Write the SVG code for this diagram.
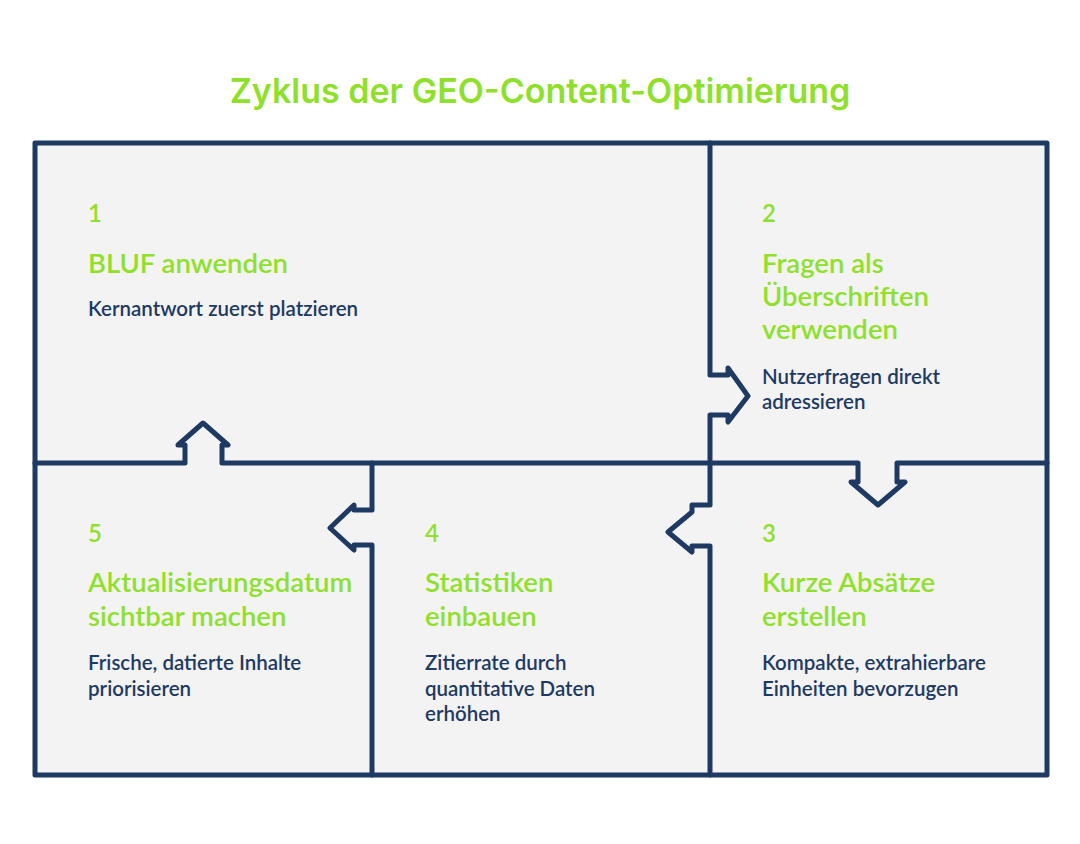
<svg xmlns="http://www.w3.org/2000/svg" width="1080" height="844" viewBox="0 0 1080 844">
<style>
.ln{fill:none;stroke:#1e3a63;stroke-width:5;stroke-linejoin:round;stroke-linecap:round}
.num{font-family:Lato,"Noto Sans",sans-serif;font-size:24px;fill:#8fe02a;font-weight:600}
.h{font-family:Lato,"Noto Sans",sans-serif;font-size:27.5px;fill:#8fe02a;font-weight:600}
.b{font-family:Lato,"Noto Sans",sans-serif;font-size:20.5px;fill:#1e3a63;font-weight:600}
</style>
<rect width="1080" height="844" fill="#fff"/>
<text x="540" y="103" text-anchor="middle" font-family="Inter,'Noto Sans',sans-serif" font-size="34" font-weight="600" fill="#8fe02a">Zyklus der GEO-Content-Optimierung</text>
<rect x="35" y="143" width="1012" height="632" fill="#f3f3f3"/>
<g id="connectors">
<path class="ln" d="M35 143 L1047 143 L1047 775 L35 775 Z"/>
<path class="ln" d="M710 143 L710 375 L728 375 L728 368 L748 396 L728 422 L728 415 L710 415 L710 505 L692 505 L692 512 L668 532 L692 552 L692 546 L710 546 L710 775"/>
<path class="ln" d="M35 463 L185 463 L185 445 L178 445 L203 423 L228 445 L222 445 L222 463 L372 463 L372 510 L354 510 L354 505 L330 528 L354 550 L354 545 L372 545 L372 775"/>
<path class="ln" d="M372 463 L858 463 L858 482 L851 482 L878 505 L905 482 L897 482 L897 463 L1047 463"/>
</g>
<g id="n1"><text class="num" x="88" y="222">1</text><text class="h" x="88" y="273">BLUF anwenden</text><text class="b" x="88" y="316">Kernantwort zuerst platzieren</text></g>
<g id="n2"><text class="num" x="762" y="222">2</text><text class="h" x="762" y="273">Fragen als</text><text class="h" x="762" y="306">Überschriften</text><text class="h" x="762" y="339">verwenden</text><text class="b" x="762" y="384">Nutzerfragen direkt</text><text class="b" x="762" y="409">adressieren</text></g>
<g id="n3"><text class="num" x="762" y="542">3</text><text class="h" x="762" y="592">Kurze Absätze</text><text class="h" x="762" y="626">erstellen</text><text class="b" x="762" y="670">Kompakte, extrahierbare</text><text class="b" x="762" y="696">Einheiten bevorzugen</text></g>
<g id="n4"><text class="num" x="425" y="542">4</text><text class="h" x="425" y="592">Statistiken</text><text class="h" x="425" y="626">einbauen</text><text class="b" x="425" y="670">Zitierrate durch</text><text class="b" x="425" y="696">quantitative Daten</text><text class="b" x="425" y="721">erhöhen</text></g>
<g id="n5"><text class="num" x="88" y="542">5</text><text class="h" x="88" y="592">Aktualisierungsdatum</text><text class="h" x="88" y="626">sichtbar machen</text><text class="b" x="88" y="670">Frische, datierte Inhalte</text><text class="b" x="88" y="696">priorisieren</text></g>
</svg>
